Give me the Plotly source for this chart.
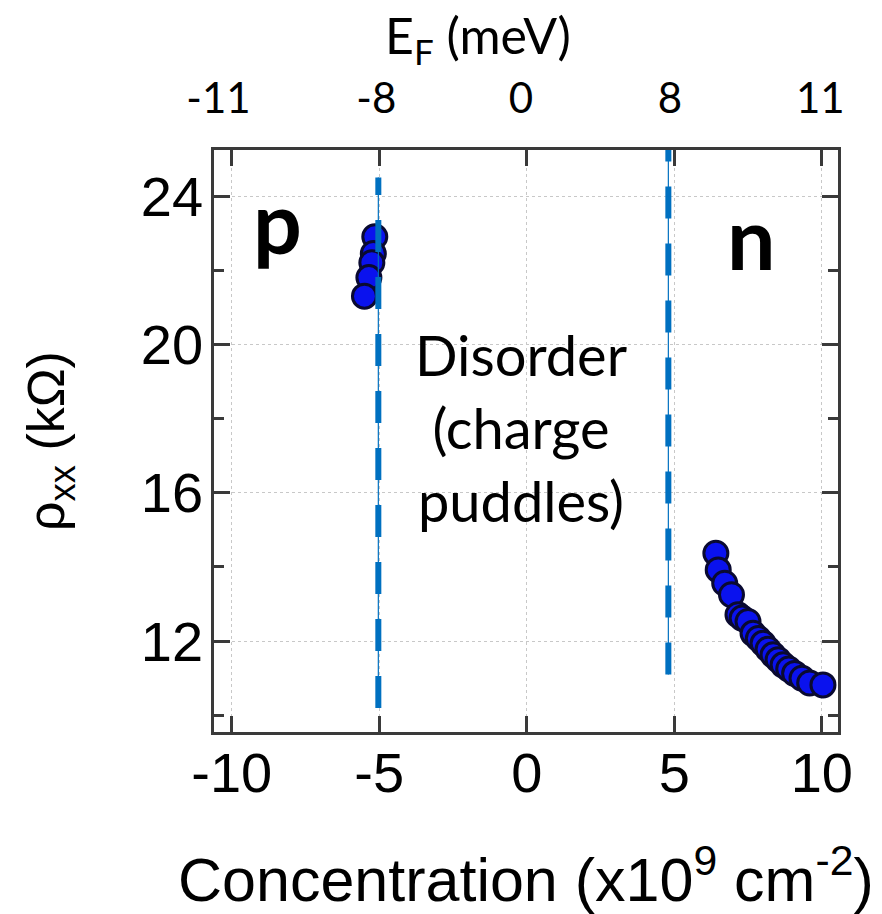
import plotly.graph_objects as go

# ---- data ----
p_conc = [-5.15, -5.2, -5.25, -5.35, -5.5]
p_rho = [22.9, 22.45, 22.2, 21.8, 21.3]

n_conc = [6.41, 6.49, 6.71, 6.94, 7.16, 7.3, 7.5, 7.67, 7.85, 8.01, 8.18, 8.35, 8.52, 8.69, 8.88, 9.08, 9.33, 9.59, 10.04]
n_rho = [14.37, 13.92, 13.56, 13.25, 12.71, 12.62, 12.53, 12.21, 12.07, 11.94, 11.78, 11.63, 11.5, 11.36, 11.25, 11.13, 11.0, 10.87, 10.82]

x_ticks = [-10, -5, 0, 5, 10]
x_ticklabels = ["-10", "-5", "0", "5", "10"]
ef_tickpos = [-10.45, -5.1, -0.2, 4.85, 9.95]
ef_ticklabels = ["-11", "-8", "0", "8", "11"]
y_ticks = [12, 16, 20, 24]

boundary_x = [-5.03, 4.8]
boundary_y0 = [10.2, 11.1]
boundary_y1 = [24.5, 25.25]

X_RANGE = [-10.6, 10.55]
Y_RANGE = [9.55, 25.24]

ARIAL = "Liberation Sans, Arial, sans-serif"
CALIBRI = "Lato, Open Sans, sans-serif"
FRAME = "#3a3a3a"
DASH_BLUE = "#0070C0"

fig = go.Figure()

marker = dict(size=24, color="#0a12ee", line=dict(color="#0a0a30", width=3))
fig.add_trace(go.Scatter(x=p_conc, y=p_rho, mode="markers", marker=marker, showlegend=False))
fig.add_trace(go.Scatter(x=n_conc, y=n_rho, mode="markers", marker=marker, showlegend=False))
# invisible trace to anchor the top (E_F) axis
fig.add_trace(go.Scatter(x=[x_ticks[0]], y=[y_ticks[0]], xaxis="x2", mode="markers",
                         marker=dict(opacity=0), showlegend=False, hoverinfo="skip"))

shapes = []
for bx, y0, y1 in zip(boundary_x, boundary_y0, boundary_y1):
    shapes.append(dict(type="line", xref="x", yref="y", x0=bx, x1=bx, y0=y0, y1=y1,
                       line=dict(color=DASH_BLUE, width=1.2)))
    shapes.append(dict(type="line", xref="x", yref="y", x0=bx, x1=bx, y0=y0, y1=y1,
                       line=dict(color=DASH_BLUE, width=6, dash="32px,25px")))

annotations = [
    dict(text="<b>p</b>", x=-8.44, y=23.35, xref="x", yref="y", showarrow=False,
         font=dict(family=CALIBRI, size=86, color="black"), xanchor="center", yanchor="middle"),
    dict(text="<b>n</b>", x=7.63, y=22.9, xref="x", yref="y", showarrow=False,
         font=dict(family=CALIBRI, size=86, color="black"), xanchor="center", yanchor="middle"),
    dict(text="Disorder<br>(charge<br>puddles)", x=-0.2, y=17.75, xref="x", yref="y", showarrow=False,
         font=dict(family=CALIBRI, size=56, color="black"), xanchor="center", yanchor="middle"),
    dict(text="E<sub>F</sub> (meV)", x=-1.65, xref="x", y=1.0, yref="paper", yshift=112,
         showarrow=False, font=dict(family=CALIBRI, size=50, color="black"),
         xanchor="center", yanchor="middle"),
    dict(text="Concentration (x10<sup>9</sup> cm<sup>-2</sup>)", x=0.5, xref="paper", y=0,
         yref="paper", yshift=-143, showarrow=False,
         font=dict(family=ARIAL, size=61, color="black"), xanchor="center", yanchor="middle"),
    dict(text="ρ<sub>xx</sub> (kΩ)", x=0, xref="paper", xshift=-164, y=0.5, yref="paper",
         textangle=-90, showarrow=False,
         font=dict(family=ARIAL, size=52, color="black"), xanchor="center", yanchor="middle"),
]

fig.update_layout(
    width=882, height=914,
    margin=dict(l=214, r=44, t=150, b=182),
    paper_bgcolor="white", plot_bgcolor="white",
    shapes=shapes, annotations=annotations,
    xaxis=dict(range=X_RANGE, tickvals=x_ticks, ticktext=x_ticklabels,
               ticks="inside", ticklen=16, tickwidth=2.5, tickcolor=FRAME,
               showline=True, linecolor=FRAME, linewidth=2.5, mirror="ticks",
               showgrid=True, gridcolor="#c8c8c8", griddash="dot", gridwidth=1,
               zeroline=False, ticklabelstandoff=-10,
               tickfont=dict(family=ARIAL, size=56, color="black")),
    xaxis2=dict(range=X_RANGE, overlaying="x", side="top", tickvals=ef_tickpos,
                ticktext=ef_ticklabels, ticks="", showline=False, showgrid=False,
                zeroline=False, ticklabelstandoff=28,
                tickfont=dict(family=CALIBRI, size=42, color="black")),
    yaxis=dict(range=Y_RANGE, tickvals=y_ticks,
               ticks="inside", ticklen=16, tickwidth=2.5, tickcolor=FRAME,
               showline=True, linecolor=FRAME, linewidth=2.5, mirror="ticks",
               showgrid=True, gridcolor="#c8c8c8", griddash="dot", gridwidth=1,
               zeroline=False, ticklabelstandoff=-3,
               minor=dict(tickvals=[10, 14, 18, 22], ticks="inside", ticklen=10,
                          tickwidth=2.5, tickcolor=FRAME, showgrid=False),
               tickfont=dict(family=ARIAL, size=56, color="black")),
)

fig.write_html("out.html")
